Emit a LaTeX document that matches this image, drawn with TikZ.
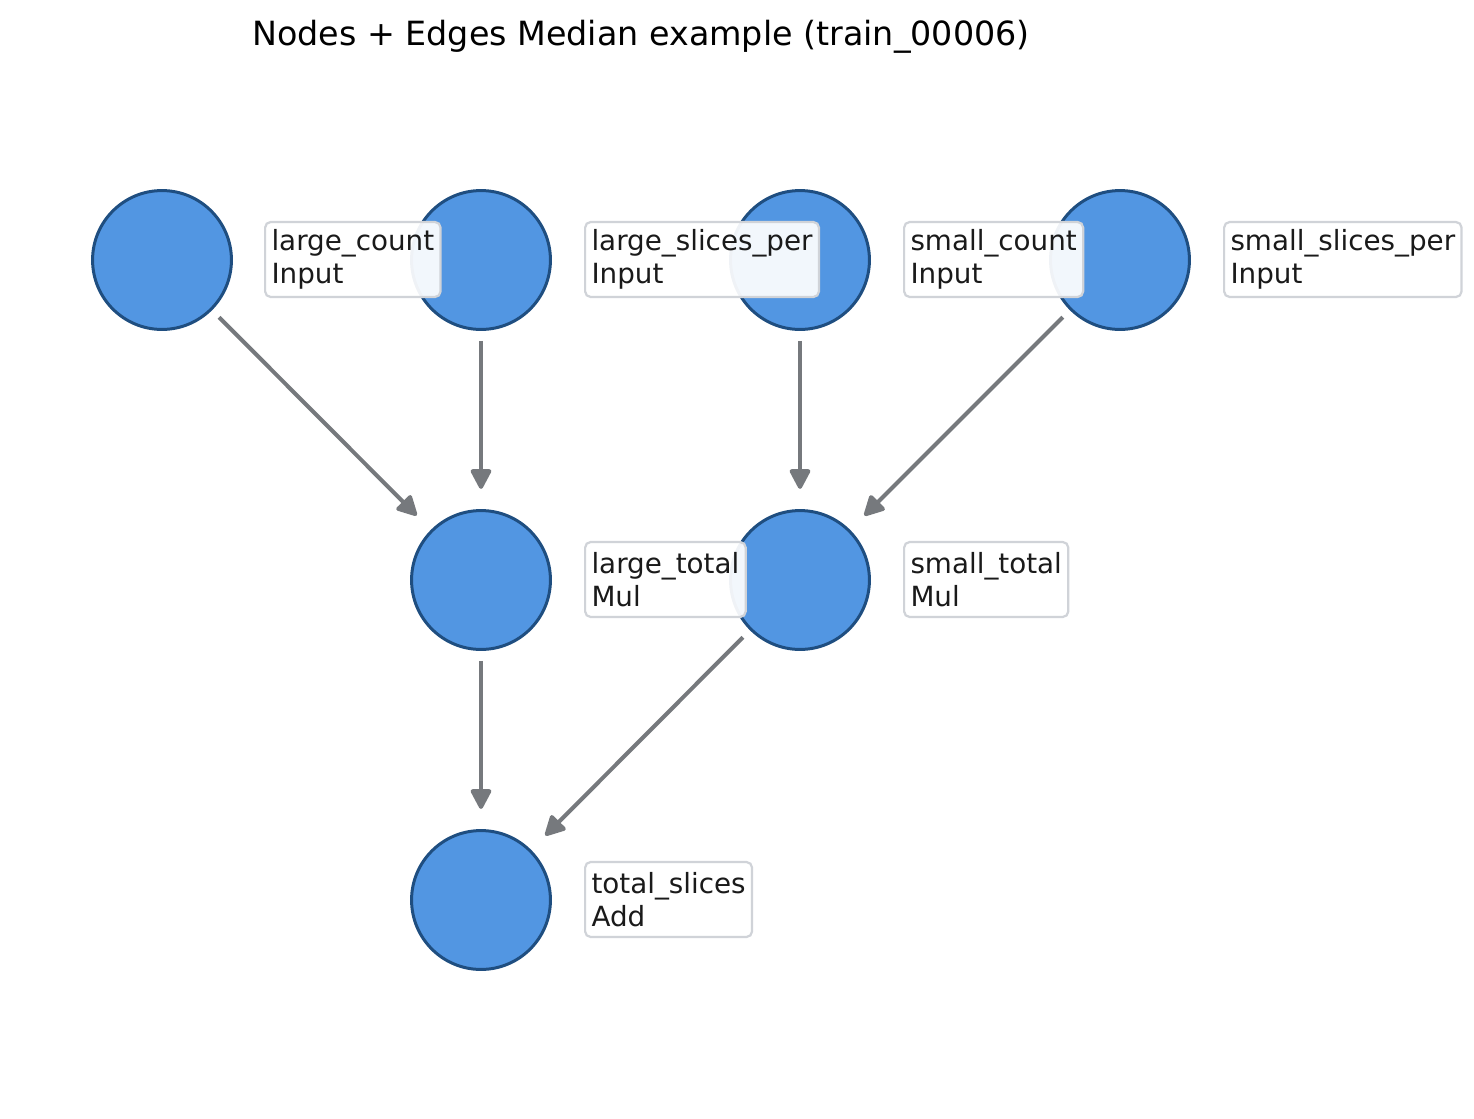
\documentclass[tikz,border=0pt]{standalone}
\usepackage{fontspec}
\setmainfont{DejaVu Sans}
\usetikzlibrary{arrows.meta}
\definecolor{nodefill}{RGB}{82,150,226}
\definecolor{nodeedge}{RGB}{31,78,128}
\definecolor{edgegray}{RGB}{118,121,125}
\definecolor{boxedge}{RGB}{208,211,216}
\definecolor{txt}{RGB}{26,26,26}
\begin{document}
\begin{tikzpicture}[x=0.36pt,y=-0.36pt,
 gnode/.style={circle, fill=nodefill, draw=nodeedge, line width=1.08pt, minimum size=50pt, inner sep=0pt, outer sep=0pt},
 lbl/.style={anchor=west, align=left, fill=white, fill opacity=0.93, text opacity=1, draw=boxedge, line width=0.8pt, rounded corners=2pt, inner xsep=2.3pt, inner ysep=0pt, minimum height=27pt, font=\fontsize{10}{12}\selectfont, text=txt},
 conn/.style={draw=edgegray, line width=1.45pt, line join=round, -{Triangle[length=8pt,width=8pt,round]}, shorten <=4.1pt, shorten >=7.8pt}]
\useasboundingbox (0,0) rectangle (1474,1118);
\node (title) at (641,37) {\fontsize{12}{14}\selectfont Nodes + Edges Median example (train\_00006)};
% nodes
\node[gnode] (lc) at (162,260) {};
\node[gnode] (lsp) at (481,260) {};
\node[gnode] (sc) at (800,260) {};
\node[gnode] (ssp) at (1120,260) {};
\node[gnode] (lt) at (481,580) {};
\node[gnode] (st) at (800,580) {};
\node[gnode] (ts) at (481,900) {};
% edges
\draw[conn] (lc) -- (lt);
\draw[conn] (lsp) -- (lt);
\draw[conn] (sc) -- (st);
\draw[conn] (ssp) -- (st);
\draw[conn] (lt) -- (ts);
\draw[conn] (st) -- (ts);
% labels
\node[lbl] (llc) at (264,259.5) {large\_count\\Input};
\node[lbl] (llsp) at (584,259.5) {large\_slices\_per\\Input};
\node[lbl] (lsc) at (903,259.5) {small\_count\\Input};
\node[lbl] (lssp) at (1223,259.5) {small\_slices\_per\\Input};
\node[lbl] (llt) at (584,579.5) {large\_total\\Mul};
\node[lbl] (lst) at (903,579.5) {small\_total\\Mul};
\node[lbl] (lts) at (584,899.5) {total\_slices\\Add};
\end{tikzpicture}
\end{document}
